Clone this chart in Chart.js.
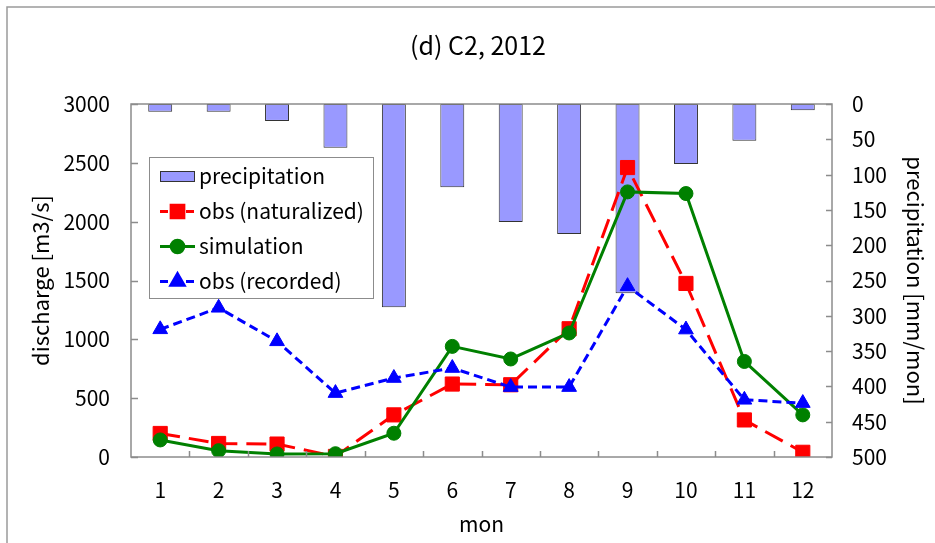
<!DOCTYPE html>
<html lang="ja">
<head>
<meta charset="UTF-8">
<title>(d) C2, 2012</title>
<script src="https://cdn.jsdelivr.net/npm/chart.js"></script>
<style>
  body { margin: 0; background: #fff; }
</style>
</head>
<body>
<canvas id="c2Chart" width="935" height="543"></canvas>
<script>
// monthly values, C2 station, 2012
const months = ['1', '2', '3', '4', '5', '6', '7', '8', '9', '10', '11', '12'];
const precipitation = [11, 11, 24, 62, 288, 118, 167, 184, 268, 85, 52, 9];        // mm/mon
const obsNaturalized = [200, 115, 110, 5, 358, 620, 614, 1090, 2460, 1475, 315, 40]; // m3/s
const simulation = [145, 54, 26, 28, 202, 940, 833, 1054, 2253, 2239, 812, 358];
const obsRecorded = [1085, 1268, 983, 543, 671, 756, 594, 594, 1452, 1083, 486, 458];

const family = "'Noto Sans CJK JP', 'Noto Sans', sans-serif";
const numFont = { family: family, size: 21 };
const textFont = { family: family, size: 21 };
const axisTitleFont = { family: family, size: 22 };
const axisGray = '#8c8c8c';

// outer frame, plot box, inward tick marks and the boxed legend
const decorations = {
  id: 'decorations',
  beforeDraw(chart) {
    const ctx = chart.ctx;
    ctx.save();
    ctx.fillStyle = '#fff';
    ctx.fillRect(0, 0, chart.width, chart.height);
    ctx.strokeStyle = '#9a9a9a';
    ctx.lineWidth = 1.5;
    ctx.strokeRect(7, 7, chart.width + 20, chart.height + 20);
    ctx.restore();
  },
  afterDatasetsDraw(chart) {
    const ctx = chart.ctx;
    const a = chart.chartArea;
    const sx = chart.scales.x, sy = chart.scales.y, sy2 = chart.scales.y2;
    ctx.save();
    ctx.strokeStyle = axisGray;
    ctx.lineWidth = 1.5;
    ctx.strokeRect(a.left, a.top, a.right - a.left, a.bottom - a.top);
    ctx.beginPath();
    sy.ticks.forEach(t => {
      const y = Math.round(sy.getPixelForValue(t.value)) + 0.5;
      ctx.moveTo(a.left, y); ctx.lineTo(a.left + 7, y);
    });
    sy2.ticks.forEach(t => {
      const y = Math.round(sy2.getPixelForValue(t.value)) + 0.5;
      ctx.moveTo(a.right, y); ctx.lineTo(a.right - 6, y);
    });
    for (let i = 1; i < months.length; i++) {
      const x = Math.round((sx.getPixelForValue(i - 1) + sx.getPixelForValue(i)) / 2) + 0.5;
      ctx.moveTo(x, a.bottom); ctx.lineTo(x, a.bottom - 6);
    }
    ctx.stroke();

    // legend
    const box = { x: 149.5, y: 157.5, w: 224, h: 141 };
    ctx.fillStyle = '#fff';
    ctx.fillRect(box.x, box.y, box.w, box.h);
    ctx.strokeStyle = axisGray;
    ctx.lineWidth = 1;
    ctx.strokeRect(box.x, box.y, box.w, box.h);
    ctx.font = `${textFont.size}px ${textFont.family}`;
    ctx.textBaseline = 'middle';
    ctx.textAlign = 'left';
    chart.data.datasets.forEach((ds, i) => {
      const cy = 176.5 + i * 35;
      const x0 = 160, x1 = 195;
      if (ds.type === 'bar') {
        ctx.fillStyle = ds.backgroundColor;
        ctx.fillRect(x0, cy - 5.5, x1 - x0, 11);
        ctx.strokeStyle = ds.borderColor;
        ctx.lineWidth = 1;
        ctx.strokeRect(x0 + 0.5, cy - 5, x1 - x0 - 1, 10);
      } else {
        ctx.strokeStyle = ds.borderColor;
        ctx.lineWidth = ds.borderWidth;
        ctx.setLineDash(ds.borderDash.length ? [8, 5] : []);
        ctx.beginPath();
        ctx.moveTo(x0, cy); ctx.lineTo(x1, cy);
        ctx.stroke();
        ctx.setLineDash([]);
        ctx.fillStyle = ds.pointBackgroundColor;
        ctx.strokeStyle = ds.pointBorderColor;
        Chart.helpers.drawPoint(ctx, {
          pointStyle: ds.pointStyle, radius: ds.pointRadius * 0.9, rotation: 0, borderWidth: 1
        }, (x0 + x1) / 2, cy);
      }
      ctx.fillStyle = '#000';
      ctx.fillText(ds.label, 199, cy);
    });
    ctx.restore();
  }
};

const lineSet = (label, data, color, dash, style, radius) => ({
  type: 'line',
  label: label,
  data: data,
  yAxisID: 'y',
  borderColor: color,
  borderWidth: 3,
  borderDash: dash,
  pointStyle: style,
  pointRadius: radius,
  pointBackgroundColor: color,
  pointBorderColor: color,
  pointBorderWidth: 1,
  tension: 0
});

const datasets = [
  {
    type: 'bar',
    label: 'precipitation',
    data: precipitation,
    yAxisID: 'y2',
    backgroundColor: '#9999ff',
    borderColor: '#333333',
    borderWidth: 1,
    borderSkipped: false,
    barPercentage: 0.41,
    categoryPercentage: 1,
    order: 4
  },
  { ...lineSet('obs (naturalized)', obsNaturalized, '#ff0000', [20, 9], 'rect', 10), order: 3 },
  { ...lineSet('simulation', simulation, '#008000', [], 'circle', 7), order: 2 },
  { ...lineSet('obs (recorded)', obsRecorded, '#0000ff', [9, 5], 'triangle', 8.5), order: 1 }
];

const plain = v => String(v);

new Chart(document.getElementById('c2Chart'), {
  type: 'bar',
  data: { labels: months, datasets: datasets },
  options: {
    responsive: false,
    animation: false,
    layout: { padding: { left: 21, right: 0, top: 0, bottom: 0 } },
    plugins: {
      legend: { display: false },
      tooltip: { enabled: false },
      title: {
        display: true,
        text: '(d) C2, 2012',
        color: '#000',
        font: { family: family, size: 25, weight: 'normal' },
        padding: { top: 30, bottom: 44 }
      }
    },
    scales: {
      x: {
        grid: { display: false, drawTicks: false },
        border: { display: false },
        ticks: { color: '#000', font: numFont, padding: 20, maxRotation: 0 },
        title: { display: true, text: 'mon', color: '#000', font: textFont, padding: { top: 0, bottom: 6 } },
        afterFit: s => { s.height = 86; }
      },
      y: {
        position: 'left',
        min: 0, max: 3000,
        grid: { display: false, drawTicks: false },
        border: { display: false },
        ticks: { stepSize: 500, color: '#000', font: numFont, padding: 21, callback: plain },
        title: { display: true, text: 'discharge [m3/s]', color: '#000', font: axisTitleFont, padding: { top: 6, bottom: 0 } },
        afterFit: s => { s.width = 110; }
      },
      y2: {
        position: 'right',
        min: 0, max: 500,
        reverse: true,
        grid: { display: false, drawTicks: false },
        border: { display: false },
        ticks: { stepSize: 50, color: '#000', font: numFont, padding: 20, callback: plain },
        title: { display: true, text: 'precipitation [mm/mon]', color: '#000', font: axisTitleFont, padding: { top: 6, bottom: 0 } },
        afterFit: s => { s.width = 103; }
      }
    }
  },
  plugins: [decorations]
});
</script>
</body>
</html>
